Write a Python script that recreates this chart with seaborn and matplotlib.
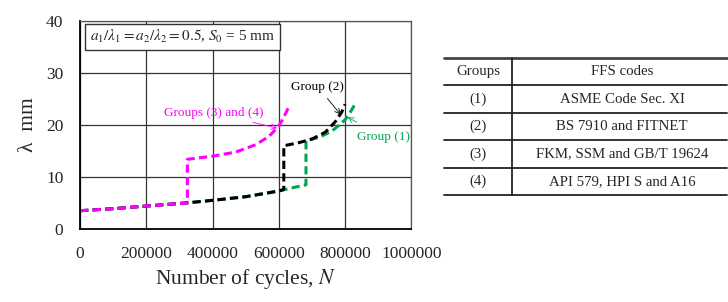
import matplotlib
matplotlib.use("Agg")
import matplotlib.pyplot as plt
import seaborn as sns
import pandas as pd

# curve data (cycles, lambda in mm)
n_group1 = [0, 100000, 200000, 320000, 400000, 500000, 600000, 640000, 682000, 682000,
            720000, 760000, 800000, 815000, 830000]
lam_group1 = [3.5, 3.9, 4.4, 5.0, 5.5, 6.2, 7.3, 7.9, 8.5, 17.0,
              17.6, 18.8, 21.0, 22.4, 24.0]
n_group2 = [0, 100000, 200000, 320000, 400000, 500000, 600000, 615000, 615000,
            660000, 700000, 740000, 770000, 790000, 800000]
lam_group2 = [3.5, 3.9, 4.4, 5.0, 5.5, 6.2, 7.3, 7.6, 16.0,
              16.6, 17.3, 18.6, 20.6, 22.5, 24.0]
n_group34 = [0, 100000, 200000, 324000, 324000, 400000, 470000, 530000, 570000,
             600000, 615000, 630000]
lam_group34 = [3.5, 3.9, 4.4, 5.0, 13.4, 14.0, 14.8, 16.2, 17.8,
               19.8, 21.5, 23.5]

table_groups = ["(1)", "(2)", "(3)", "(4)"]
table_codes = ["ASME Code Sec. XI", "BS 7910 and FITNET",
               "FKM, SSM and GB/T 19624", "API 579, HPI S and A16"]

sns.set_style("white")
plt.rcParams["font.family"] = ["Liberation Serif", "DejaVu Serif"]
plt.rcParams["mathtext.fontset"] = "stix"

fig = plt.figure(figsize=(7.28, 3.02), dpi=100)
ax = fig.add_axes([0.110, 0.242, 0.455, 0.688])

curves = [
    (n_group1, lam_group1, "#00a651"),
    (n_group2, lam_group2, "black"),
    (n_group34, lam_group34, "#ff00ff"),
]
for n, lam, col in curves:
    df = pd.DataFrame({"N": n, "lam": lam})
    sns.lineplot(data=df, x="N", y="lam", sort=False, estimator=None, ax=ax,
                 color=col, linewidth=2.2, linestyle=(0, (2.7, 1.4)))

ax.set_xlim(0, 1000000)
ax.set_ylim(0, 40)
ax.set_xticks(range(0, 1000001, 200000))
ax.set_xticklabels([str(v) for v in range(0, 1000001, 200000)])
ax.set_yticks(range(0, 41, 10))
ax.grid(True, color="#333333", linewidth=0.9)
ax.tick_params(axis="x", length=0, pad=12, labelsize=12.5)
ax.tick_params(axis="y", length=0, pad=12, labelsize=12.5)
for s in ax.spines.values():
    s.set_color("#555555")
    s.set_linewidth(0.9)
ax.spines["left"].set_color("black")
ax.spines["bottom"].set_color("black")
ax.spines["left"].set_linewidth(1.3)
ax.spines["bottom"].set_linewidth(1.3)

ax.set_xlabel("Number of cycles, $\\it{N}$", fontsize=15.5, labelpad=4)
ax.set_ylabel("λ  mm", fontsize=15.5, labelpad=6)

ax.text(0.03, 0.925, "$a_1/\\lambda_1 = a_2/\\lambda_2 = 0.5$, $S_0$ = 5 mm",
        transform=ax.transAxes, fontsize=11, va="center", ha="left",
        bbox=dict(boxstyle="square,pad=0.3", fc="white", ec="#333333", lw=1.0))

ax.annotate("Groups (3) and (4)", xy=(595000, 19.4), xytext=(405000, 22.3),
            color="#ff00ff", fontsize=9.5, ha="center", va="center",
            arrowprops=dict(arrowstyle="->", color="#ff00ff", lw=0.6,
                            shrinkA=0, shrinkB=0))
ax.annotate("Group (2)", xy=(787000, 22.0), xytext=(718000, 27.3),
            color="black", fontsize=9.5, ha="center", va="center",
            arrowprops=dict(arrowstyle="->", color="black", lw=0.6,
                            shrinkA=2, shrinkB=0))
ax.annotate("Group (1)", xy=(808000, 21.5), xytext=(915000, 17.7),
            color="#00a651", fontsize=9.5, ha="center", va="center",
            arrowprops=dict(arrowstyle="->", color="#00a651", lw=0.6,
                            shrinkA=8, shrinkB=0))

# table on the right
tx = fig.add_axes([444 / 728, 1 - 195 / 302, (727 - 444) / 728, (195 - 58) / 302])
tx.set_xlim(0, 1)
tx.set_ylim(0, 5)
tx.axis("off")
nrow = len(table_groups) + 1
tx.plot([0, 1], [nrow, nrow], color="#444444", lw=2.0, clip_on=False)
for i in range(nrow):
    tx.plot([0, 1], [i, i], color="#222222", lw=1.3, clip_on=False)
tx.plot([0.24, 0.24], [0, nrow], color="#222222", lw=1.3, clip_on=False)
tx.text(0.12, nrow - 0.5, "Groups", ha="center", va="center", fontsize=10.7)
tx.text(0.63, nrow - 0.5, "FFS codes", ha="center", va="center", fontsize=10.7)
for i, (g, c) in enumerate(zip(table_groups, table_codes)):
    yy = nrow - 1.5 - i
    tx.text(0.12, yy, g, ha="center", va="center", fontsize=10.7)
    tx.text(0.63, yy, c, ha="center", va="center", fontsize=10.7)

fig.savefig("out.png", dpi=100)
